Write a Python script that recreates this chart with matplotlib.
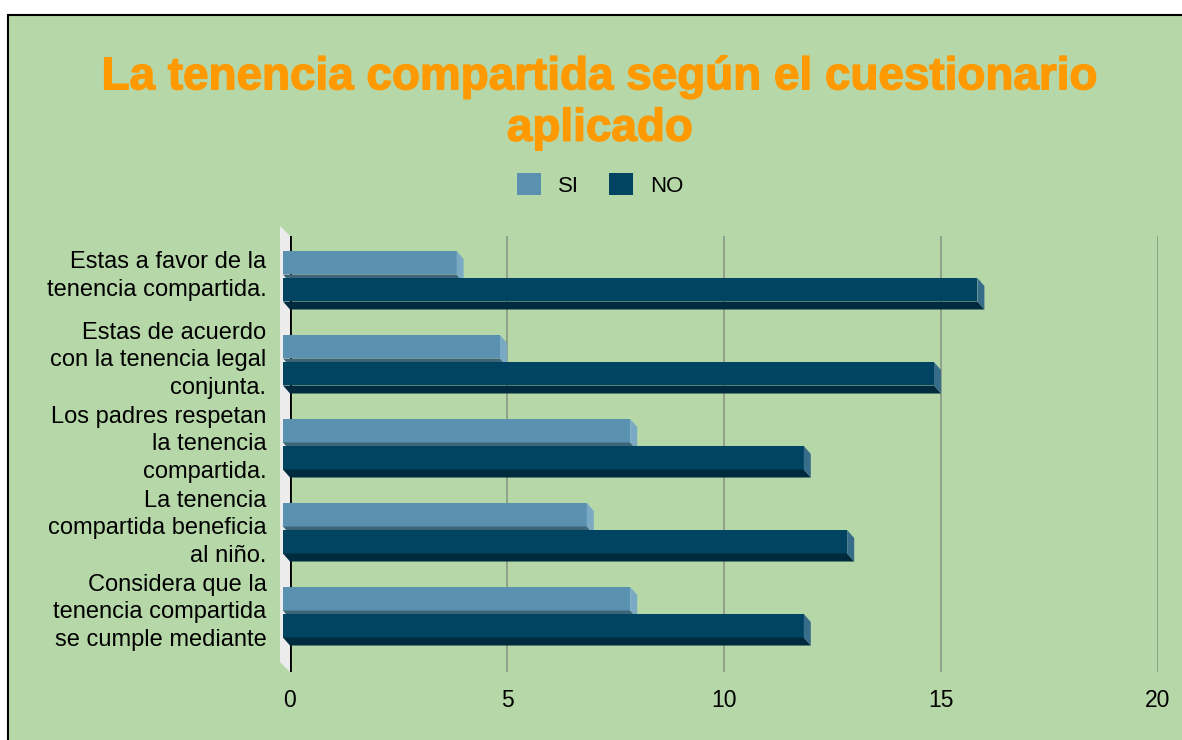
import matplotlib.pyplot as plt
import matplotlib.patheffects as pe
from matplotlib.patches import Polygon, Rectangle, Patch

plt.rcParams['font.family'] = ['Liberation Sans', 'DejaVu Sans']

categories = ['Estas a favor de la\ntenencia compartida.',
              'Estas de acuerdo\ncon la tenencia legal\nconjunta.',
              'Los padres respetan\nla tenencia\ncompartida.',
              'La tenencia\ncompartida beneficia\nal niño.',
              'Considera que la\ntenencia compartida\nse cumple mediante']
si_values = [4, 5, 8, 7, 8]
no_values = [16, 15, 12, 13, 12]
x_ticks = [0, 5, 10, 15, 20]

bg = '#b6d7a8'
colors = {'SI': ('#5a91b0', '#3e6478', '#7aa9c4'),
          'NO': ('#004461', '#002a3d', '#386d8a')}

fig = plt.figure(figsize=(11.82, 7.40), dpi=100, facecolor='white')
fig.patches.append(Rectangle((8 / 1182, -0.1), 1.2, 1.1 - 15 / 740,
                             transform=fig.transFigure, facecolor=bg,
                             edgecolor='black', lw=1.5, zorder=-5))

ax = fig.add_axes([290 / 1182, 1 - 672 / 740, 868 / 1182, 436 / 740])
ax.set_zorder(2)
ax.set_facecolor('none')
ax.set_xlim(0, 20)
ax.set_ylim(4.711, -0.479)

# 3d offsets in data units (about 7px x 8px)
dx = 7 / 43.4
dy = 8 / 84
h = 23.5 / 84
off = 13.5 / 84

# left wall
ax.add_patch(Polygon([(-10 / 43.4, -0.598), (0, -0.479), (0, 4.711), (-10 / 43.4, 4.592)],
                     closed=True, facecolor='#ececec', edgecolor='none',
                     clip_on=False, zorder=1))

for t in x_ticks[1:]:
    ax.axvline(t, color='#8c9e86', lw=1.3, zorder=1)
ax.axvline(0, color='black', lw=2, zorder=1.5)

ypos = list(range(len(categories)))


def bar3d(y, v, key):
    front, bottom, side = colors[key]
    ax.barh(y, v, height=h, left=-dx, color=front, zorder=3, clip_on=False)
    y0, y1 = y - h / 2, y + h / 2
    ax.add_patch(Polygon([(-dx, y1), (v - dx, y1), (v, y1 + dy), (0, y1 + dy)],
                         closed=True, facecolor=bottom, edgecolor='none', zorder=3, clip_on=False))
    ax.add_patch(Polygon([(v - dx, y0), (v, y0 + dy), (v, y1 + dy), (v - dx, y1)],
                         closed=True, facecolor=side, edgecolor='none', zorder=3, clip_on=False))


for y, s, n in zip(ypos, si_values, no_values):
    bar3d(y - off, s, 'SI')
    bar3d(y + off, n, 'NO')

for sp in ax.spines.values():
    sp.set_visible(False)

ax.set_xticks(x_ticks)
ax.set_xticklabels([str(t) for t in x_ticks], fontsize=16.5)
ax.tick_params(axis='x', length=0, pad=12)
ax.set_yticks(ypos)
ax.set_yticklabels(categories, fontsize=17, va='center', ha='right',
                   multialignment='right', linespacing=1.33)
ax.tick_params(axis='y', length=0, pad=17)

fig.text(600 / 1182, 1 - 103 / 740, 'La tenencia compartida según el cuestionario\naplicado',
         ha='center', va='center', fontsize=33, fontweight='bold', color='#ff9900',
         linespacing=1.22, path_effects=[pe.withStroke(linewidth=1.0, foreground='#ff9900')])

handles = [Patch(facecolor=colors['SI'][0], label='SI'),
           Patch(facecolor=colors['NO'][0], label='NO')]
fig.legend(handles=handles, loc='center', bbox_to_anchor=(600 / 1182, 1 - 185 / 740),
           ncol=2, frameon=False, fontsize=16, handlelength=1.1, handleheight=1.1,
           handletextpad=0.75, columnspacing=1.35)

fig.savefig('out.png', dpi=100, facecolor='white')
